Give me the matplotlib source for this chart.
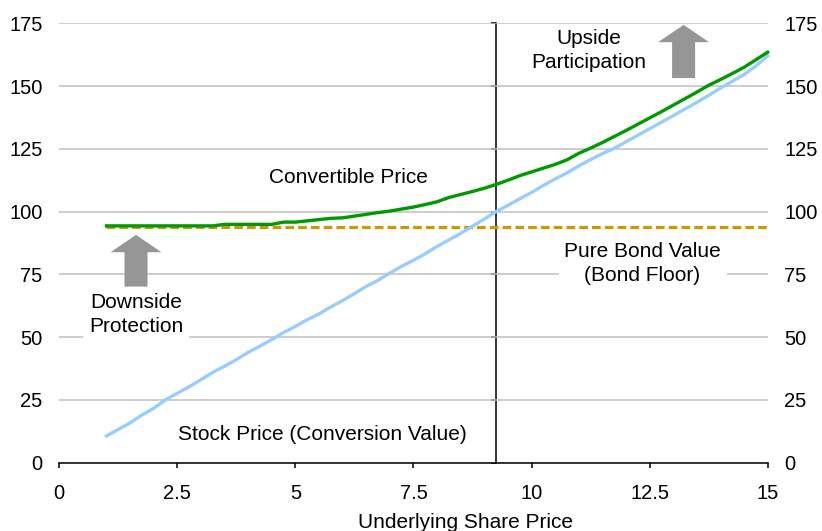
import matplotlib
matplotlib.use("Agg")
import matplotlib.pyplot as plt
from matplotlib.patches import FancyArrow

plt.rcParams['font.family'] = ['Liberation Sans', 'DejaVu Sans']

# Underlying share price grid
share_price = [1.00, 1.25, 1.50, 1.75, 2.00, 2.25, 2.50, 2.75, 3.00, 3.25,
               3.50, 3.75, 4.00, 4.25, 4.50, 4.75, 5.00, 5.25, 5.50, 5.75,
               6.00, 6.25, 6.50, 6.75, 7.00, 7.25, 7.50, 7.75, 8.00, 8.25,
               8.50, 8.75, 9.00, 9.25, 9.50, 9.75, 10.00, 10.25, 10.50, 10.75,
               11.00, 11.25, 11.50, 11.75, 12.00, 12.25, 12.50, 12.75, 13.00, 13.25,
               13.50, 13.75, 14.00, 14.25, 14.50, 14.75, 15.00]

# Stock price (conversion value)
stock_price = [10.6, 13.2, 15.8, 18.9, 21.6, 25.0, 27.6, 30.2, 33.0, 35.9,
               38.4, 41.0, 43.9, 46.4, 49.0, 51.8, 54.2, 56.9, 59.2, 62.0,
               64.5, 67.3, 70.2, 72.6, 75.5, 78.2, 80.6, 83.2, 86.1, 88.7,
               91.3, 94.2, 97.0, 100.0, 102.5, 105.1, 107.6, 110.4, 113.0, 115.4,
               118.2, 120.7, 123.1, 125.2, 127.8, 130.4, 133.0, 135.6, 138.2, 140.9,
               143.5, 146.3, 149.2, 151.9, 154.6, 158.0, 162.0]

# Convertible bond price
convertible_price = [94.3, 94.3, 94.3, 94.3, 94.3, 94.3, 94.3, 94.3, 94.3, 94.3,
                     94.9, 94.9, 94.9, 94.9, 94.9, 95.8, 95.8, 96.3, 96.8, 97.3,
                     97.5, 98.2, 98.9, 99.6, 100.2, 101.0, 101.8, 102.8, 103.9, 105.6,
                     106.8, 108.0, 109.3, 110.8, 112.5, 114.3, 115.8, 117.3, 118.8, 120.6,
                     123.2, 125.3, 127.5, 129.9, 132.3, 134.8, 137.3, 139.8, 142.4, 145.0,
                     147.6, 150.3, 152.6, 155.0, 157.5, 160.5, 163.5]

bond_floor = 94.0
conversion_price = 9.25

x_ticks = [0, 2.5, 5, 7.5, 10, 12.5, 15]
x_tick_labels = ["0", "2.5", "5", "7.5", "10", "12.5", "15"]
y_ticks = [0, 25, 50, 75, 100, 125, 150, 175]
y_tick_labels = ["0", "25", "50", "75", "100", "125", "150", "175"]

GREEN = "#009900"
BLUE = "#99CCFF"
GOLD = "#CC9900"
ARROW = "#969696"
GRID = "#C0C0C0"
FS = 15
TICK_FS = 14.5

fig = plt.figure(figsize=(8.22, 5.31), dpi=100)
ax = fig.add_axes([0.0721, 0.129, 0.8618, 0.827])
ax.set_xlim(0, 15)
ax.set_ylim(0, 175)

# horizontal gridlines
ax.set_yticks(y_ticks)
ax.set_yticklabels(y_tick_labels)
ax.yaxis.grid(True, color=GRID, linewidth=1.1, zorder=0)
ax.set_axisbelow(True)

ax.set_xticks(x_ticks)
ax.set_xticklabels(x_tick_labels)

for side in ("left", "right", "top"):
    ax.spines[side].set_visible(False)
ax.spines["bottom"].set_color("black")
ax.spines["bottom"].set_linewidth(1.1)

ax.tick_params(axis="x", direction="out", length=3.6, width=1.1, pad=12,
               labelsize=TICK_FS, colors="black")
ax.tick_params(axis="y", left=False, right=False, length=0, labelleft=True,
               labelright=True, labelsize=TICK_FS, pad=12)

# vertical axis crossing at the conversion price
sec = ax.secondary_yaxis(conversion_price, transform=ax.transData)
sec.set_yticks(y_ticks)
sec.tick_params(direction="in", length=3.6, width=1.1,
                labelleft=False, labelright=False)
for sp in sec.spines.values():
    sp.set_linewidth(1.1)
    sp.set_color("black")

# series
ax.plot(share_price, [bond_floor] * len(share_price), color=GOLD, lw=2.3,
        linestyle=(0, (2.7, 1.3)), zorder=3, clip_on=False)
ax.plot(share_price, stock_price, color=BLUE, lw=2.4, zorder=4,
        solid_joinstyle="round", clip_on=False)
ax.plot(share_price, convertible_price, color=GREEN, lw=2.4, zorder=5,
        solid_joinstyle="round", clip_on=False)

# annotations
box = dict(facecolor="white", edgecolor="none", pad=4)
ax.text(6.13, 113.4, "Convertible Price", fontsize=FS, ha="center",
        va="center", bbox=box, zorder=2)
ax.text(11.21, 164, "Upside\nParticipation", fontsize=FS, ha="center",
        va="center", linespacing=1.33, bbox=box, zorder=2)
ax.text(1.625, 58.8, "Downside\nProtection", fontsize=FS, ha="center",
        va="center", linespacing=1.33, bbox=box, zorder=2)
ax.text(12.35, 79.3, "Pure Bond Value\n(Bond Floor)", fontsize=FS,
        ha="center", va="center", linespacing=1.33, bbox=box, zorder=2)
ax.text(5.58, 10.96, "Stock Price (Conversion Value)", fontsize=FS,
        ha="center", va="center", bbox=box, zorder=2)

# block arrows
for x0, y0, length in [(1.625, 70.1, 20.6), (13.22, 153.2, 21.2)]:
    ax.add_patch(FancyArrow(x0, y0, 0, length, width=0.487, head_width=1.08,
                            head_length=6.9, length_includes_head=True,
                            facecolor=ARROW, edgecolor="none", zorder=2))

ax.set_xlabel("Underlying Share Price", fontsize=FS)
ax.xaxis.set_label_coords(0.574, -0.114)

fig.savefig("out.png", dpi=100)
